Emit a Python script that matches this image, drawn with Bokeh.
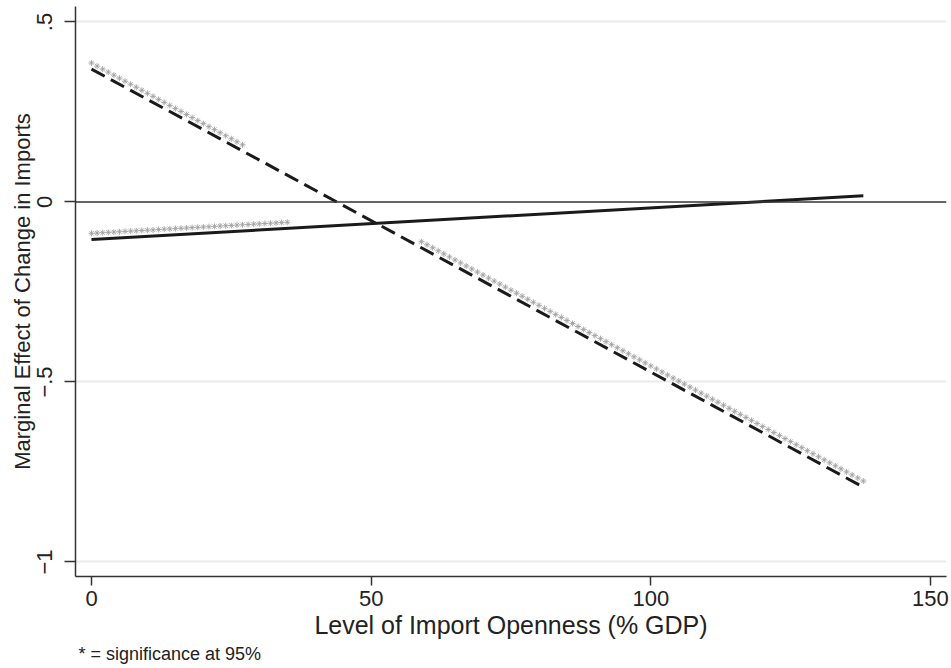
import numpy as np
from bokeh.plotting import figure
from bokeh.models import Range1d, FixedTicker, Span, Title
from bokeh.embed import file_html
from bokeh.resources import INLINE

# ---- data ----
openness_ends = [0, 138]                 # Level of import openness (% GDP), line end points
effect_dashed = [0.369, -0.792]          # marginal effect, dashed series
effect_solid = [-0.104, 0.017]           # marginal effect, solid series
# significant stretches (openness values where the "*" markers are drawn)
sig_dashed_a = list(range(0, 28))
sig_dashed_b = list(range(59, 139))
sig_solid = list(range(0, 36))
x_ticks = [0, 50, 100, 150]
y_ticks = [-1, -0.5, 0, 0.5]
y_tick_labels = {-1: "\u22121", -0.5: "\u2212.5", 0: "0", 0.5: ".5"}

FONT = "Liberation Sans"
INK = "#222222"

p = figure(width=951, height=668, output_backend="svg", toolbar_location=None,
           x_range=Range1d(-2.86, 152.87), y_range=Range1d(-1.0403, 0.5430),
           min_border_left=75, min_border_right=5, min_border_top=6, min_border_bottom=92)
p.outline_line_color = None
p.background_fill_color = "white"
p.border_fill_color = "white"

p.xgrid.visible = False
p.ygrid.ticker = FixedTicker(ticks=[t for t in y_ticks if t != 0])
p.ygrid.grid_line_color = "#ebebeb"
p.ygrid.grid_line_width = 2

p.xaxis.ticker = FixedTicker(ticks=x_ticks)
p.yaxis.ticker = FixedTicker(ticks=y_ticks)
p.yaxis.major_label_overrides = y_tick_labels
p.yaxis.major_label_orientation = "vertical"

for ax in (p.xaxis[0], p.yaxis[0]):
    ax.axis_line_color = "#333333"
    ax.axis_line_width = 1.5
    ax.major_tick_line_color = "#333333"
    ax.major_tick_line_width = 1.5
    ax.major_tick_in = 0
    ax.minor_tick_line_color = None
    ax.major_label_text_font = FONT
    ax.major_label_text_font_size = "22px"
    ax.major_label_text_color = INK
    ax.axis_label_text_font = FONT
    ax.axis_label_text_font_style = "normal"
    ax.axis_label_text_color = INK

p.xaxis.major_tick_out = 9
p.yaxis.major_tick_out = 11
p.xaxis.major_label_standoff = 5
p.yaxis.major_label_standoff = 12
p.xaxis.axis_label = "Level of Import Openness (% GDP)"
p.yaxis.axis_label = "Marginal Effect of Change in Imports"
p.xaxis.axis_label_text_font_size = "25px"
p.yaxis.axis_label_text_font_size = "22px"
p.xaxis.axis_label_standoff = 2
p.yaxis.axis_label_standoff = 0

# zero reference line
p.add_layout(Span(location=0, dimension="width", line_color="#333333", line_width=1.5))

# lines
p.line(openness_ends, effect_dashed, line_color="#1a1a1a", line_width=3, line_dash="15 7")
p.line(openness_ends, effect_solid, line_color="#1a1a1a", line_width=3)

# significance markers (drawn just above the line)
off = 0.017
def sig_points(xs, ys_end):
    xs = np.array(xs, dtype=float)
    return xs, np.interp(xs, openness_ends, ys_end) + off

for xs, ys in ((sig_dashed_a, effect_dashed), (sig_dashed_b, effect_dashed), (sig_solid, effect_solid)):
    sx, sy = sig_points(xs, ys)
    p.scatter(sx, sy, marker="asterisk", size=6, line_color="#a0a0a0", line_width=0.9)

p.add_layout(Title(text="* = significance at 95%", align="left", text_font=FONT,
                   text_font_size="18px", text_font_style="normal", text_color=INK,
                   offset=3, standoff=0), "below")

open("out.html", "w").write(file_html(p, INLINE))
